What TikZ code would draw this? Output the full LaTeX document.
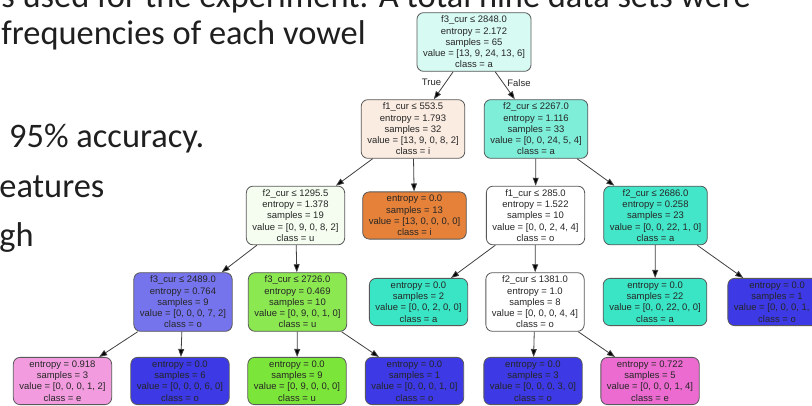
\documentclass[tikz,border=0pt]{standalone}
\usepackage{fontspec}
\setmainfont{Carlito}
\newfontfamily\treefont{Liberation Sans}
\usetikzlibrary{arrows.meta}

\definecolor{cli}{HTML}{E58139}
\definecolor{clu}{HTML}{7BE539}
\definecolor{cla}{HTML}{39E5C5}
\definecolor{clo}{HTML}{3C39E5}
\definecolor{cle}{HTML}{E539C0}

\begin{document}
\begin{tikzpicture}[x=0.75pt,y=-0.75pt,->,>={Triangle[length=6pt,width=4.4pt]},line width=0.6pt,
  main node/.style={rectangle,rounded corners=5pt,draw=black!65,inner xsep=4.6pt,inner ysep=2.6pt,align=center,font=\treefont\fontsize{7.1}{8.4}\selectfont,text=black!85},
  slide text/.style={anchor=base west,inner sep=0pt,font=\fontsize{25.8}{30}\selectfont,text=black!88},
  edge label/.style={font=\treefont\fontsize{7.1}{8.4}\selectfont,text=black!85,inner sep=1pt}]

      \useasboundingbox (0,0) rectangle (812,406);
      \clip (0,0) rectangle (812,406);

      % slide text behind the tree
      \node[slide text] (s1) at (1,8) {s used for the experiment. A total nine data sets were};
      \node[slide text] (s2) at (1,45) {frequencies of each vowel};
      \node[slide text] (s3) at (1,147) {\ 95\% accuracy.};
      \node[slide text] (s4) at (-1,197) {eatures};
      \node[slide text] (s5) at (-1,246) {gh};

      \node[main node,fill=cla!20] at (474,42) (0) {f3\_cur ≤ 2848.0\\ entropy = 2.172\\ samples = 65\\ value = [13, 9, 24, 13, 6]\\ class = a};
      \node[main node,fill=cli!15] at (413,129) (1) {f1\_cur ≤ 553.5\\ entropy = 1.793\\ samples = 32\\ value = [13, 9, 0, 8, 2]\\ class = i};
      \node[main node,fill=cla!65] at (536,129) (2) {f2\_cur ≤ 2267.0\\ entropy = 1.116\\ samples = 33\\ value = [0, 0, 24, 5, 4]\\ class = a};
      \node[main node,fill=clu!8] at (295.5,215.5) (3) {f2\_cur ≤ 1295.5\\ entropy = 1.378\\ samples = 19\\ value = [0, 9, 0, 8, 2]\\ class = u};
      \node[main node,fill=cli] at (414.5,215.5) (4) {entropy = 0.0\\ samples = 13\\ value = [13, 0, 0, 0, 0]\\ class = i};
      \node[main node,fill=white] at (535.5,215.5) (5) {f1\_cur ≤ 285.0\\ entropy = 1.522\\ samples = 10\\ value = [0, 0, 2, 4, 4]\\ class = o};
      \node[main node,fill=cla!95] at (655.5,215.5) (6) {f2\_cur ≤ 2686.0\\ entropy = 0.258\\ samples = 23\\ value = [0, 0, 22, 1, 0]\\ class = a};
      \node[main node,fill=clo!70] at (183,302) (7) {f3\_cur ≤ 2489.0\\ entropy = 0.764\\ samples = 9\\ value = [0, 0, 0, 7, 2]\\ class = o};
      \node[main node,fill=clu!88] at (297.5,302) (8) {f3\_cur ≤ 2726.0\\ entropy = 0.469\\ samples = 10\\ value = [0, 9, 0, 1, 0]\\ class = u};
      \node[main node,fill=cla] at (418.5,302) (9) {entropy = 0.0\\ samples = 2\\ value = [0, 0, 2, 0, 0]\\ class = a};
      \node[main node,fill=white] at (535,302) (10) {f2\_cur ≤ 1381.0\\ entropy = 1.0\\ samples = 8\\ value = [0, 0, 0, 4, 4]\\ class = o};
      \node[main node,fill=cla] at (655,302) (11) {entropy = 0.0\\ samples = 22\\ value = [0, 0, 22, 0, 0]\\ class = a};
      \node[main node,fill=clo] at (777,302) (12) {entropy = 0.0\\ samples = 1\\ value = [0, 0, 0, 1, 0]\\ class = o};
      \node[main node,fill=cle!50] at (62.5,381) (13) {entropy = 0.918\\ samples = 3\\ value = [0, 0, 0, 1, 2]\\ class = e};
      \node[main node,fill=clo] at (180,381) (14) {entropy = 0.0\\ samples = 6\\ value = [0, 0, 0, 6, 0]\\ class = o};
      \node[main node,fill=clu] at (297,381) (15) {entropy = 0.0\\ samples = 9\\ value = [0, 9, 0, 0, 0]\\ class = u};
      \node[main node,fill=clo] at (414.5,381) (16) {entropy = 0.0\\ samples = 1\\ value = [0, 0, 0, 1, 0]\\ class = o};
      \node[main node,fill=clo] at (533,381) (17) {entropy = 0.0\\ samples = 3\\ value = [0, 0, 0, 3, 0]\\ class = o};
      \node[main node,fill=cle!75] at (650,381) (18) {entropy = 0.722\\ samples = 5\\ value = [0, 0, 0, 1, 4]\\ class = e};

      \path[draw=black!75]
      (0) edge node[pos=0.4,left=2pt,edge label] {True} (1)
      (0) edge node[pos=0.4,right=2pt,edge label] {False} (2)
      (1) edge (3)
      (1) edge (4)
      (2) edge (5)
      (2) edge (6)
      (3) edge (7)
      (3) edge (8)
      (5) edge (9)
      (5) edge (10)
      (6) edge (11)
      (6) edge (12)
      (7) edge (13)
      (7) edge (14)
      (8) edge (15)
      (8) edge (16)
      (10) edge (17)
      (10) edge (18)
      ;

    \end{tikzpicture}
\end{document}
